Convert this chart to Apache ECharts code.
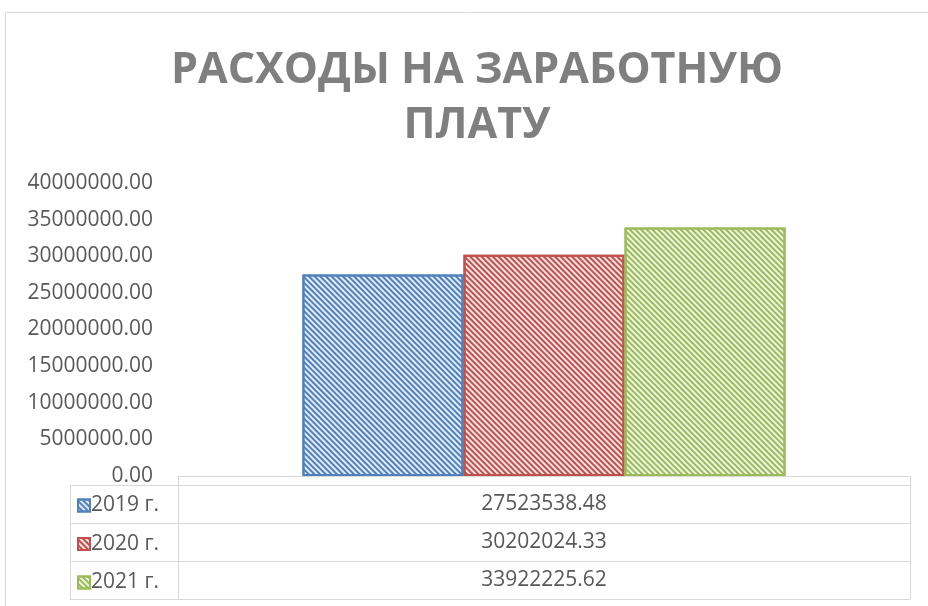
<!DOCTYPE html>
<html><head><meta charset="utf-8">
<script src="https://cdn.jsdelivr.net/npm/echarts@6/dist/echarts.min.js"></script>
<style>html,body{margin:0;padding:0;background:#fff}#c{width:928px;height:606px}</style>
</head><body><div id="c"></div>
<script>
const titleText = 'РАСХОДЫ НА ЗАРАБОТНУЮ\nПЛАТУ';
const seriesNames = ['2019 г.', '2020 г.', '2021 г.'];
const seriesValues = [27523538.48, 30202024.33, 33922225.62];
const seriesColors = ['#4F81BD', '#C0504D', '#9BBB59'];
const seriesBg = ['#e4ebf5', '#f5e3e2', '#eef4e3'];
const yTicks = { min: 0, max: 40000000, interval: 5000000 };

const FONT = 'Open Sans';
const chart = echarts.init(document.getElementById('c'), null, { renderer: 'canvas' });

const gridL = 178, gridR = 18, gridT = 183, gridB = 130;
const tableLeft = 70, tableDiv = 178, tableRight = 910;
const axisY = 476, tableTop = 485, rowH = 38;
const line = '#d9d9d9';

const graphics = [];
graphics.push({ type: 'rect', shape: { x: 5.5, y: 12.5, width: 940, height: 620 }, style: { fill: 'none', stroke: line, lineWidth: 1 }, silent: true });
function hline(y, x1, x2) { graphics.push({ type: 'line', shape: { x1, y1: y + 0.5, x2, y2: y + 0.5 }, style: { stroke: line, lineWidth: 1 }, silent: true }); }
function vline(x, y1, y2) { graphics.push({ type: 'line', shape: { x1: x + 0.5, y1, x2: x + 0.5, y2 }, style: { stroke: line, lineWidth: 1 }, silent: true }); }
for (let i = 0; i <= seriesNames.length; i++) hline(tableTop + i * rowH, tableLeft, tableRight);
vline(tableLeft, tableTop, tableTop + seriesNames.length * rowH);
vline(tableDiv, axisY, tableTop + seriesNames.length * rowH);
vline(tableRight, axisY, tableTop + seriesNames.length * rowH);
seriesValues.forEach((v, i) => {
  graphics.push({ type: 'text', x: (tableDiv + tableRight) / 2, y: tableTop + i * rowH + rowH / 2,
    style: { text: v.toFixed(2), fill: '#595959', font: '21px "' + FONT + '"', align: 'center', verticalAlign: 'middle' }, silent: true });
});

const decalOf = (c) => ({ symbol: 'rect', symbolSize: 1, dashArrayX: [1, 0], dashArrayY: [1.5, 2], rotation: Math.PI / 4, color: c });

chart.setOption({
  animation: false,
  title: { text: titleText, left: 472, top: 38, textAlign: 'center',
    textStyle: { fontFamily: FONT, fontWeight: 'bold', fontSize: 43, color: '#7f7f7f', lineHeight: 55 } },
  legend: { orient: 'vertical', left: 72, top: tableTop + 5, itemGap: 17.5, itemWidth: 12, itemHeight: 12,
    icon: 'rect', textStyle: { fontFamily: FONT, fontSize: 21, color: '#595959', padding: [0, 0, 0, -4] }, data: seriesNames, selectedMode: false },
  grid: { left: gridL, right: gridR, top: gridT, bottom: gridB, containLabel: false },
  xAxis: { type: 'category', data: [''], axisLine: { lineStyle: { color: line } }, axisTick: { show: false }, axisLabel: { show: false } },
  yAxis: { type: 'value', min: yTicks.min, max: yTicks.max, interval: yTicks.interval,
    axisLine: { show: false }, axisTick: { show: false }, splitLine: { show: false },
    axisLabel: { fontFamily: FONT, fontSize: 21, color: '#595959', margin: 25, formatter: (v) => v.toFixed(2) } },
  series: seriesNames.map((n, i) => ({
    type: 'bar', name: n, data: [seriesValues[i]], barGap: '0%', barCategoryGap: '34%',
    itemStyle: { color: seriesBg[i], borderColor: seriesColors[i], borderWidth: 2, decal: decalOf(seriesColors[i]) }
  })),
  graphic: graphics
});
</script></body></html>
